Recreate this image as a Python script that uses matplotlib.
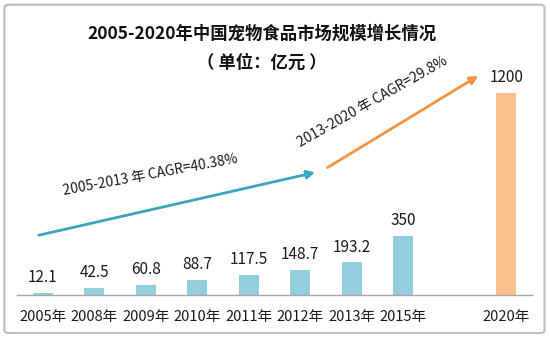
import matplotlib
matplotlib.use("Agg")
import matplotlib.pyplot as plt
from matplotlib.patches import FancyBboxPatch

plt.rcParams['font.family'] = ['Noto Sans CJK SC', 'DejaVu Sans']

# data
years = ["2005年", "2008年", "2009年", "2010年", "2011年", "2012年", "2013年", "2015年", "2020年"]
values = [12.1, 42.5, 60.8, 88.7, 117.5, 148.7, 193.2, 350, 1200]
slots = [0, 1, 2, 3, 4, 5, 6, 7, 9]
bar_colors = ["#93CDDD"] * 8 + ["#FAC090"]
value_labels = ["12.1", "42.5", "60.8", "88.7", "117.5", "148.7", "193.2", "350", "1200"]

fig = plt.figure(figsize=(5.5, 3.64), dpi=100)
fig.patch.set_facecolor("white")

# grey rounded frame (behind the axes)
frame = FancyBboxPatch((0.008, 0.085), 0.982, 0.902, boxstyle="round,pad=0,rounding_size=0.008",
                       transform=fig.transFigure, facecolor="white", edgecolor="#BEBEBE",
                       linewidth=1.5, zorder=-5)
fig.patches.append(frame)

ax = fig.add_axes([0.031, 0.1896, 0.936, 0.7005])
ax.set_zorder(2)
ax.set_facecolor("none")
bars = ax.bar(slots, values, width=0.39, color=bar_colors)
ax.set_xlim(-0.5, 9.5)
ax.set_ylim(0, 1515)

for b, lab in zip(bars, value_labels):
    ax.annotate(lab, (b.get_x() + b.get_width() / 2, b.get_height()),
                xytext=(0, 5), textcoords="offset points",
                ha="center", va="bottom", fontsize=11, color="#1a1a1a")

ax.set_xticks(slots)
ax.set_xticklabels(years, fontsize=10.5, color="#1a1a1a")
ax.tick_params(axis="x", length=0, pad=11)
ax.set_yticks([])
for s in ["top", "right", "left"]:
    ax.spines[s].set_visible(False)
ax.spines["bottom"].set_color("#A6A6A6")
ax.spines["bottom"].set_linewidth(1.0)

# growth arrows
ax.annotate("", xy=(5.29, 728), xytext=(-0.08, 355),
            arrowprops=dict(arrowstyle="-|>", color="#3AA5BC", lw=2.0,
                            mutation_scale=12, shrinkA=0, shrinkB=0),
            annotation_clip=False)
ax.annotate("", xy=(8.46, 1302), xytext=(5.53, 757),
            arrowprops=dict(arrowstyle="-|>", color="#F29441", lw=2.0,
                            mutation_scale=12, shrinkA=0, shrinkB=0),
            annotation_clip=False)

ax.text(2.08, 712, "2005-2013 年 CAGR=40.38%", rotation=10.5, rotation_mode="anchor",
        ha="center", va="center", fontsize=10, color="#1a1a1a")
ax.text(6.4, 1150, "2013-2020 年 CAGR=29.8%", rotation=29.5, rotation_mode="anchor",
        ha="center", va="center", fontsize=10, color="#1a1a1a")

# titles
fig.text(0.476, 0.908, "2005-2020年中国宠物食品市场规模增长情况", ha="center", va="center",
         fontsize=12.5, fontweight="bold", color="#111111")
fig.text(0.476, 0.828, "（ 单位：亿元 ）", ha="center", va="center",
         fontsize=12.5, fontweight="bold", color="#111111")

fig.savefig("out.png", dpi=100)
